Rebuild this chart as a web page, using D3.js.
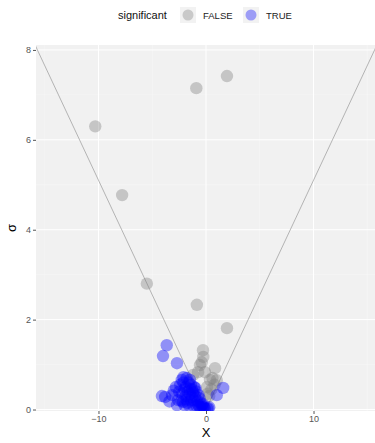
<!DOCTYPE html>
<html><head><meta charset="utf-8">
<script src="https://cdn.jsdelivr.net/npm/d3@7"></script>
<style>body{margin:0;background:#fff}svg{display:block;font-family:"Liberation Sans",Arial,sans-serif}</style>
</head><body><svg id="c" width="375" height="443"></svg>
<script>
// Data
const xVals = [-10.3,-7.8,-5.5,-0.9,1.95,-0.85,1.95,-0.28,-0.25,-0.56,0.84,-0.1,-0.74,0.37,0.1,-1.2,0.5,0.8,0.3,0.6,1.0,-0.4,0.15,
  -3.65,-4.0,-2.7,-2.25,-1.8,-3.8,-3.15,-2.6,-2.15,1.6,1.0,-4.1,-3.4,
  -2.4,-2.1,-1.9,-1.6,-1.4,-1.3,-2.5,-2.2,-1.9,-1.7,-1.5,-1.2,-1.0,-0.9,-1.1,-1.4,-1.7,-2.0,-0.8,-0.6,-0.7,-0.5,-0.4,-0.3,-0.2,-1.2,-0.9,-0.5,-0.1,0.1,0.2,-1.5,-1.8,-2.3,-1.3,-0.7,-1.0,-2.8,-3.0,-2.0,0.3,-0.3,-0.6,-1.1,-1.6,-2.7,-2.1,-1.5];
const sigmaVals = [6.3,4.77,2.8,7.15,7.42,2.33,1.81,1.32,1.17,0.99,0.92,0.83,0.83,0.66,0.5,0.77,0.45,0.55,0.3,0.7,0.65,1.05,0.35,
  1.43,1.19,1.03,0.66,0.7,0.28,0.32,0.21,0.17,0.48,0.32,0.3,0.18,
  0.55,0.6,0.5,0.6,0.55,0.45,0.4,0.35,0.3,0.4,0.35,0.38,0.3,0.4,0.2,0.2,0.15,0.1,0.2,0.25,0.1,0.15,0.1,0.05,0.05,0.1,0.08,0.05,0.02,0.02,0.03,0.45,0.22,0.2,0.28,0.32,0.48,0.5,0.42,0.45,0.05,0.12,0.05,0.5,0.1,0.1,0.72,0.66];
// number of FALSE (grey) points first, the rest are TRUE (blue)
const significant = xVals.map((_, i) => i >= 23);
const xTicks = [-10, 0, 10];
const yTicks = [0, 2, 4, 6, 8];
const legendLabels = ["FALSE", "TRUE"];

const data = xVals.map((x, i) => ({x, s: sigmaVals[i], sig: significant[i]}));

const svg = d3.select("#c");
const L = 36, R = 376, T = 45, B = 411;
const x = d3.scaleLinear().domain([-15.81, 15.81]).range([L, R]);
const y = d3.scaleLinear().domain([-0.033, 8.11]).range([B, T]);

svg.append("rect").attr("x", L).attr("y", T).attr("width", R - L).attr("height", B - T).attr("fill", "#f1f1f1");
const g = svg.append("g");
[1,3,5,7].forEach(v => g.append("line").attr("x1", L).attr("x2", R).attr("y1", y(v)).attr("y2", y(v)).attr("stroke", "#f8f8f8").attr("stroke-width", 0.5));
[-15,-5,5,15].forEach(v => g.append("line").attr("y1", T).attr("y2", B).attr("x1", x(v)).attr("x2", x(v)).attr("stroke", "#f8f8f8").attr("stroke-width", 0.5));
yTicks.forEach(v => g.append("line").attr("x1", L).attr("x2", R).attr("y1", y(v)).attr("y2", y(v)).attr("stroke", "#fff").attr("stroke-width", 1));
xTicks.forEach(v => g.append("line").attr("y1", T).attr("y2", B).attr("x1", x(v)).attr("x2", x(v)).attr("stroke", "#fff").attr("stroke-width", 1));

svg.append("clipPath").attr("id", "pc").append("rect").attr("x", L).attr("y", T).attr("width", R - L).attr("height", B - T);
const lineG = svg.append("g").attr("clip-path", "url(#pc)");
const line = d3.line().x(d => x(d[0])).y(d => y(d[1]));
lineG.append("path").attr("d", line([[-16, 16/1.96], [0, 0], [16, 16/1.96]])).attr("fill", "none").attr("stroke", "#8a8a8a").attr("stroke-width", 0.6);

const ptG = svg.append("g").attr("clip-path", "url(#pc)");
ptG.selectAll("circle").data(data).join("circle")
  .attr("cx", d => x(d.x)).attr("cy", d => y(d.s)).attr("r", 6.2)
  .attr("fill", d => d.sig ? "#0000ff" : "#7f7f7f").attr("fill-opacity", d => d.sig ? 0.4 : 0.38);

const xAx = svg.append("g").attr("transform", `translate(0,${B})`).call(d3.axisBottom(x).tickValues(xTicks).tickSize(3).tickPadding(2));
const yAx = svg.append("g").attr("transform", `translate(${L},0)`).call(d3.axisLeft(y).tickValues(yTicks).tickSize(3).tickPadding(2));
[xAx, yAx].forEach(a => {
  a.select(".domain").remove();
  a.selectAll("line").attr("stroke", "#555");
  a.selectAll("text").attr("fill", "#555").attr("font-size", 9).attr("font-family", "Liberation Sans, Arial, sans-serif");
});
svg.append("text").attr("x", x(0)).attr("y", 437).attr("text-anchor", "middle").attr("font-size", 13).text("X");
svg.append("text").attr("transform", `translate(16,${(T+B)/2}) rotate(-90)`).attr("text-anchor", "middle").attr("font-size", 13).text("σ");

svg.append("text").attr("x", 118).attr("y", 19).attr("font-size", 11).attr("fill", "#111").text("significant");
const lx = [188, 251];
const lc = ["#7f7f7f", "#0000ff"];
legendLabels.forEach((lab, i) => {
  svg.append("rect").attr("x", lx[i] - 8).attr("y", 7).attr("width", 16).attr("height", 16).attr("fill", "#f2f2f2");
  svg.append("circle").attr("cx", lx[i]).attr("cy", 15).attr("r", 5.5).attr("fill", lc[i]).attr("fill-opacity", 0.35);
  svg.append("text").attr("x", lx[i] + 15).attr("y", 18.5).attr("font-size", 9.5).attr("fill", "#222").text(lab);
});
</script></body></html>
